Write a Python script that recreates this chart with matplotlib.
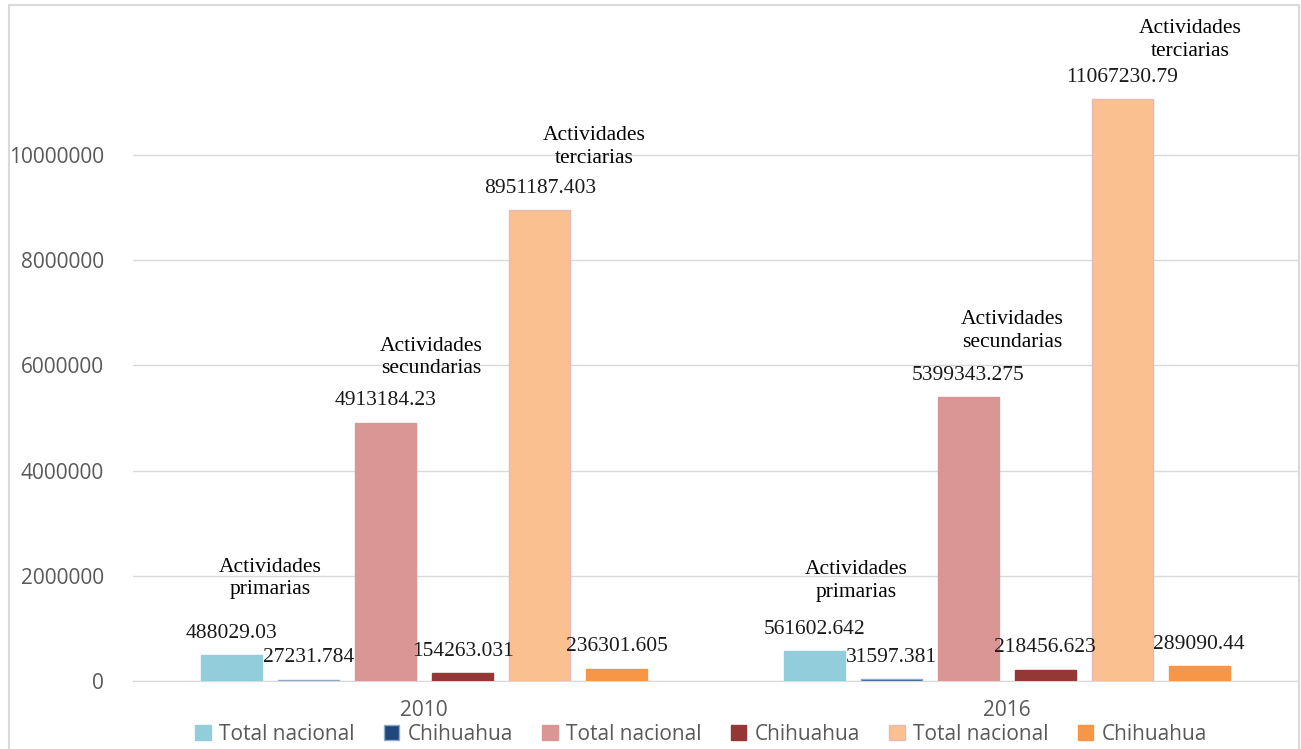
import matplotlib.pyplot as plt
import numpy as np
from matplotlib.patches import Rectangle

# data
years = ['2010', '2016']
series = ['Total nacional', 'Chihuahua', 'Total nacional', 'Chihuahua', 'Total nacional', 'Chihuahua']
primarias_nac = [488029.03, 561602.642]
primarias_chih = [27231.784, 31597.381]
secundarias_nac = [4913184.23, 5399343.275]
secundarias_chih = [154263.031, 218456.623]
terciarias_nac = [8951187.403, 11067230.79]
terciarias_chih = [236301.605, 289090.44]
value_labels = [['488029.03', '27231.784', '4913184.23', '154263.031', '8951187.403', '236301.605'],
                ['561602.642', '31597.381', '5399343.275', '218456.623', '11067230.79', '289090.44']]
activities = ['Actividades\nprimarias', 'Actividades\nsecundarias', 'Actividades\nterciarias']
yticks = [0, 2000000, 4000000, 6000000, 8000000, 10000000]

colors = ['#92CDDC', '#1F497D', '#D99694', '#953735', '#FAC090', '#F79646']
edges = ['#92CDDC', '#8EA9C8', '#D99694', '#953735', '#E6B9B8', '#F79646']

vals = np.array([primarias_nac, primarias_chih, secundarias_nac, secundarias_chih,
                 terciarias_nac, terciarias_chih])

fig = plt.figure(figsize=(13.01, 7.49), dpi=100)
ax = fig.add_axes([133/1301, 1-681/749, 1165/1301, 676/749])

x = np.arange(len(years))
step = 0.1322
width = 0.105
for i in range(6):
    off = (i - 2.5) * step
    ax.bar(x + off, vals[i], width, color=colors[i], edgecolor=edges[i], linewidth=1,
           label=series[i], zorder=3)
    for j in range(len(years)):
        ax.text(x[j] + off, vals[i][j] + 230000, value_labels[j][i], ha='center', va='bottom',
                fontsize=15.5, family='Liberation Serif', color='#1a1a1a', zorder=4)

# activity annotations above each pair of bars
ann_y = [[1950000, 6150000, 10150000], [1900000, 6650000, 12180000]]
ann_dx = [[0.0, 0.012, 0.027], [0.006, 0.009, 0.05]]
for j in range(len(years)):
    for k in range(3):
        cx = x[j] + (2*k - 2) * step + ann_dx[j][k]
        ax.text(cx, ann_y[j][k], activities[k], ha='center', va='center', fontsize=15.5,
                family='Liberation Serif', linespacing=1.25, color='black', zorder=4)

ax.set_xlim(-0.5, 1.5)
ax.set_ylim(0, 12850000)
ax.set_yticks(yticks)
ax.set_yticklabels([str(t) for t in yticks], fontsize=15, color='#595959', family='Open Sans')
ax.set_xticks(x)
ax.set_xticklabels(years, fontsize=15, color='#595959', family='Open Sans')
ax.tick_params(axis='both', length=0)
ax.tick_params(axis='y', pad=21)
ax.tick_params(axis='x', pad=14)
ax.grid(axis='y', color='#D9D9D9', linewidth=1, zorder=0)
for s in ['top', 'right', 'left']:
    ax.spines[s].set_visible(False)
ax.spines['bottom'].set_color('#D9D9D9')

leg = fig.legend(loc='center', bbox_to_anchor=(701/1301, 1-734/749), ncol=6, frameon=False,
                 handlelength=0.75, handleheight=0.75, handletextpad=0.4,
                 columnspacing=1.4, prop={'family': 'Open Sans', 'size': 15})
for t in leg.get_texts():
    t.set_color('#595959')

# outer chart frame
fig.patches.append(Rectangle((9/1301, -0.05), (1299-9)/1301, 1.05 - 5/749, transform=fig.transFigure,
                             fill=False, edgecolor='#D9D9D9', linewidth=1.5))

fig.savefig('out.png', dpi=100)
